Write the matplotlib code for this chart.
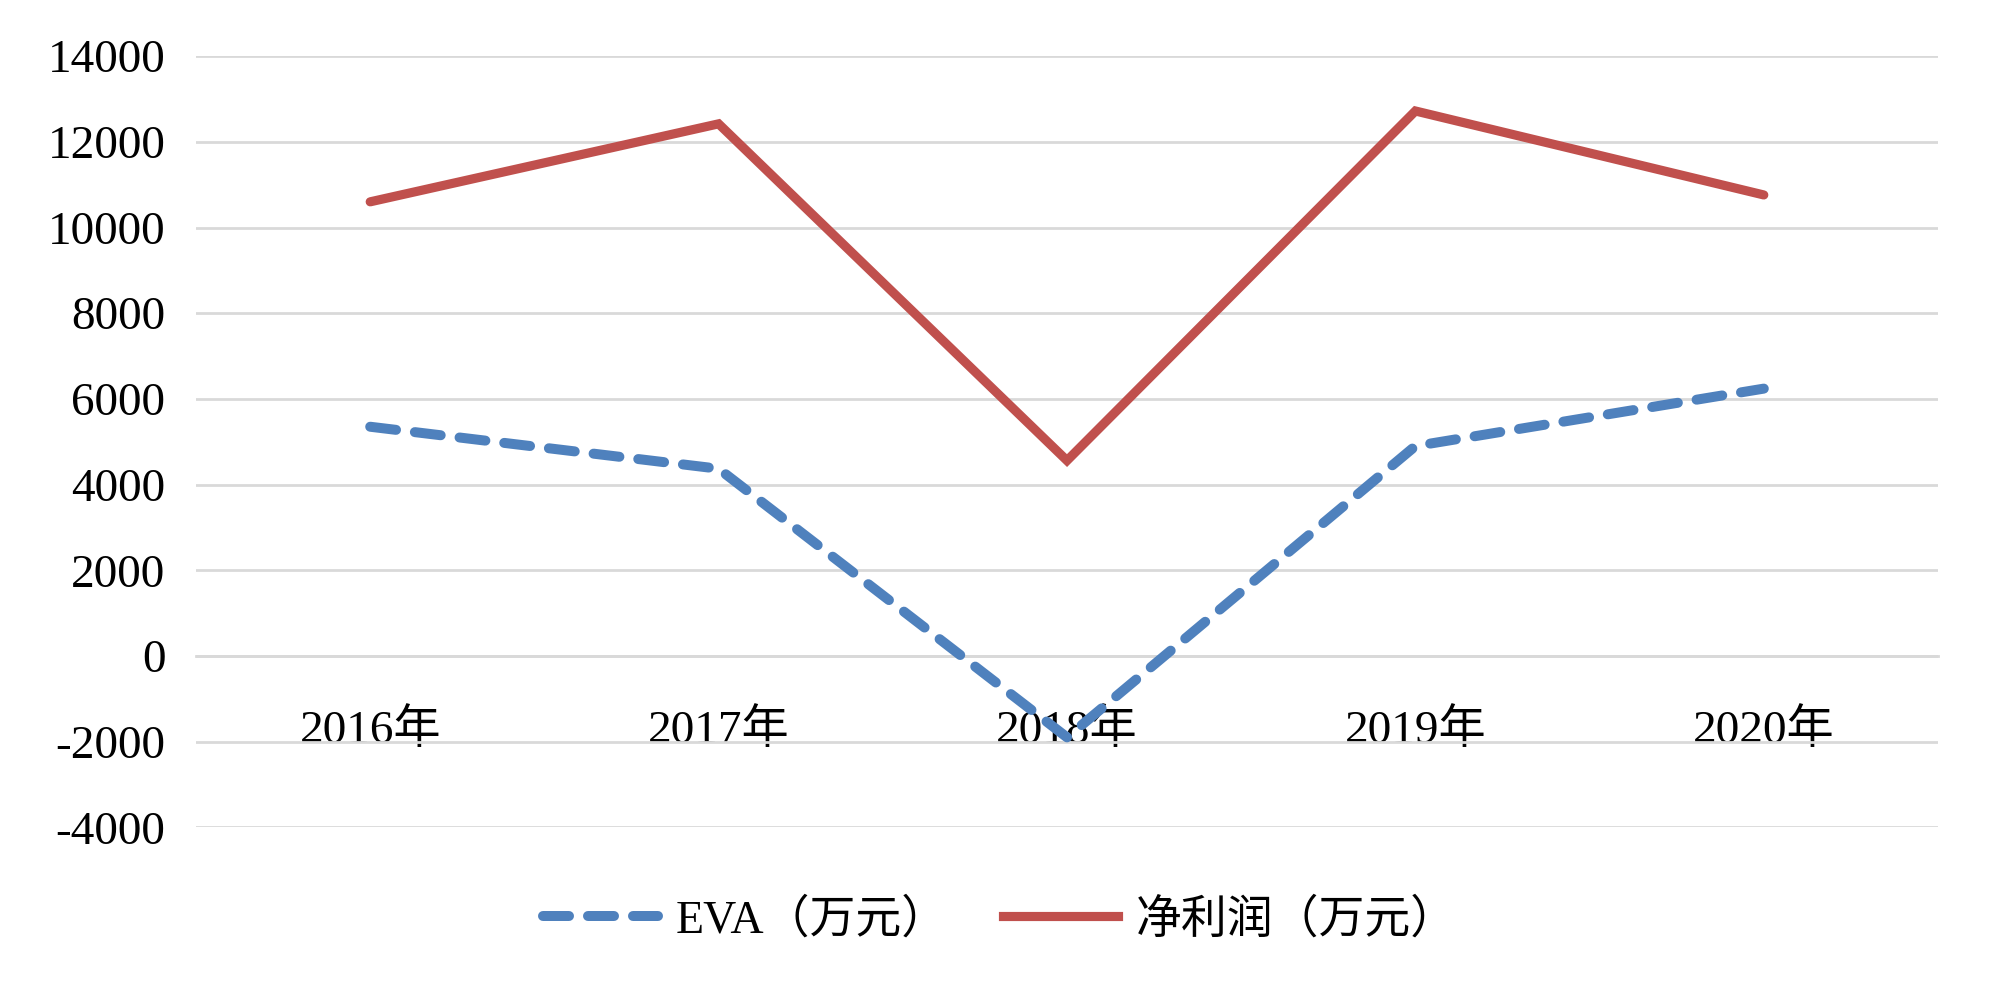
import matplotlib
matplotlib.use("Agg")
import matplotlib.pyplot as plt
from matplotlib.lines import Line2D

# ------------------------
# DATA
# ------------------------
years = ["2016年", "2017年", "2018年", "2019年", "2020年"]
eva = [5350, 4370, -1900, 4900, 6240]
net_profit = [10600, 12420, 4560, 12720, 10760]
y_ticks = list(range(-4000, 14001, 2000))

FONT = ["Liberation Serif", "Noto Sans CJK SC"]
BLUE = "#4F81BD"
RED = "#C0504D"
GRID = "#D9D9D9"
EVA_DASH = (2.6, 1.9)

plt.rcParams["font.family"] = FONT

fig = plt.figure(figsize=(10, 4.96), dpi=200)
ax = fig.add_axes([0.098, 0.166, 0.871, 0.7774])

x = list(range(len(years)))
ax.plot(x, net_profit, color=RED, lw=3.3, solid_capstyle="round",
        solid_joinstyle="miter", zorder=3)
eva_line, = ax.plot(x, eva, color=BLUE, lw=3.6, dash_capstyle="round",
                    zorder=3)
eva_line.set_dashes(EVA_DASH)

ax.set_xlim(-0.5, len(years) - 0.5)
ax.set_ylim(y_ticks[0], y_ticks[-1])

ax.yaxis.grid(True, color=GRID, lw=1.0)
ax.set_axisbelow(True)
for side in ["top", "right", "left"]:
    ax.spines[side].set_visible(False)
ax.spines["bottom"].set_position(("data", 0))
ax.spines["bottom"].set_color(GRID)
ax.spines["bottom"].set_linewidth(1.0)

# ticks after moving the spine (set_position resets the ticks)
ax.set_yticks(y_ticks)
ax.set_yticklabels([str(v) for v in y_ticks])
ax.set_xticks(x)
ax.set_xticklabels(years)
ax.tick_params(axis="both", length=0, labelsize=17)
ax.tick_params(axis="y", pad=11)
ax.tick_params(axis="x", pad=19)

h_eva = Line2D([], [], color=BLUE, lw=3.6, dash_capstyle="round")
h_eva.set_dashes(EVA_DASH)
h_net = Line2D([], [], color=RED, lw=3.3)
fig.legend([h_eva, h_net], ["EVA（万元）", "净利润（万元）"],
           loc="center", bbox_to_anchor=(0.5, 0.072), ncol=2, frameon=False,
           fontsize=16.5, handlelength=2.5, handletextpad=0.4, columnspacing=1.2)

fig.savefig("out.png", dpi=200, facecolor="white")
